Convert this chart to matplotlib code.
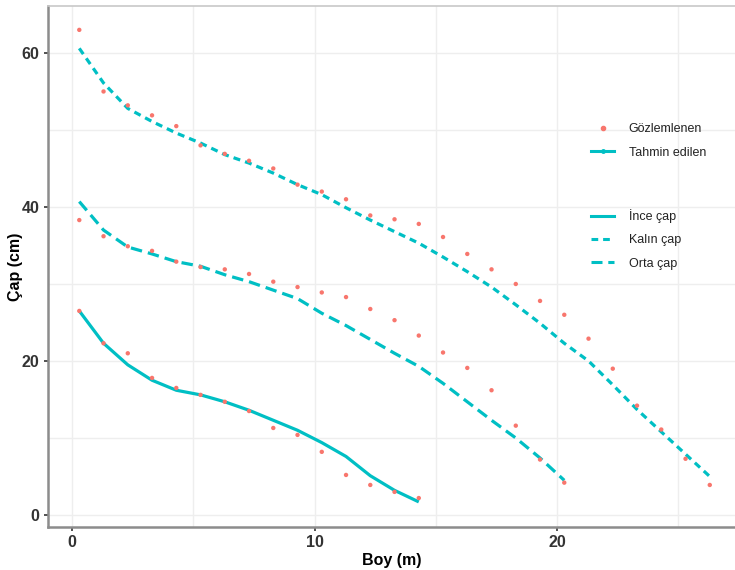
import matplotlib
matplotlib.use("Agg")
import matplotlib.pyplot as plt
from matplotlib.lines import Line2D
import numpy as np

# ---- data ----
x_ince = [0.3, 1.3, 2.3, 3.3, 4.3, 5.3, 6.3, 7.3, 8.3, 9.3, 10.3, 11.3, 12.3, 13.3, 14.3]
obs_ince = [26.5, 22.3, 21.0, 17.8, 16.5, 15.6, 14.7, 13.5, 11.3, 10.4, 8.2, 5.2, 3.9, 3.0, 2.2]
pred_ince = [26.5, 22.3, 19.5, 17.5, 16.2, 15.6, 14.7, 13.6, 12.3, 11.0, 9.4, 7.6, 5.1, 3.2, 1.7]

x_orta = [0.3 + i for i in range(21)]
obs_orta = [38.3, 36.2, 34.9, 34.3, 32.9, 32.2, 31.9, 31.3, 30.3, 29.6, 28.9, 28.3, 26.75,
            25.3, 23.3, 21.1, 19.1, 16.2, 11.6, 7.2, 4.2]
pred_orta = [40.7, 37.0, 34.8, 33.9, 32.9, 32.3, 31.2, 30.3, 29.2, 28.1, 26.2, 24.6, 22.8,
             21.0, 19.3, 17.1, 14.7, 12.3, 10.0, 7.4, 4.5]

x_kalin = [0.3 + i for i in range(27)]
obs_kalin = [63.0, 55.0, 53.2, 51.9, 50.5, 48.0, 46.9, 46.0, 45.0, 42.9, 42.0, 41.0, 38.9,
             38.4, 37.8, 36.1, 33.9, 31.9, 30.0, 27.8, 26.0, 22.9, 19.0, 14.2, 11.1, 7.3, 3.9]
pred_kalin = [60.6, 56.1, 52.8, 51.1, 49.6, 48.3, 46.8, 45.7, 44.4, 42.9, 41.6, 39.9, 38.3,
              36.8, 35.3, 33.5, 31.6, 29.6, 27.3, 24.9, 22.3, 20.0, 16.9, 13.7, 10.8, 7.9, 5.0]

x_ticks = [0, 10, 20]
y_ticks = [0, 20, 40, 60]

# ---- style ----
teal = "#00BFC4"
salmon = "#F8766D"
plt.rcParams['font.family'] = ['Liberation Sans', 'DejaVu Sans']

fig = plt.figure(figsize=(7.35, 5.7), dpi=100)
ax = fig.add_axes([48/735, 1-527/570, 1-48/735, (527-6)/570])

ax.set_xlim(-0.99, (735-72)/24.25)
ax.set_ylim(-1.56, 66.1)

# grid
for v in [0, 5, 10, 15, 20, 25]:
    ax.axvline(v, color="#eeeeee", lw=1.0, zorder=0)
for v in [0, 10, 20, 30, 40, 50, 60]:
    ax.axhline(v, color="#eeeeee", lw=1.0, zorder=0)

lw = 2.3
dash_k = (0, (2.2, 1.6))
dash_o = (0, (3.6, 1.9))
ax.plot(x_ince, pred_ince, color=teal, lw=lw, ls='-', solid_capstyle='butt',
        solid_joinstyle='round', zorder=2)
ax.plot(x_kalin, pred_kalin, color=teal, lw=lw, ls=dash_k, zorder=2)
ax.plot(x_orta, pred_orta, color=teal, lw=lw, ls=dash_o, zorder=2)

for xs, ys in [(x_ince, obs_ince), (x_orta, obs_orta), (x_kalin, obs_kalin)]:
    ax.scatter(xs, ys, s=10, color=salmon, edgecolors='none', zorder=3)

ax.set_xticks(x_ticks)
ax.set_yticks(y_ticks)
ax.tick_params(axis='both', labelsize=11.5, colors='#333333', length=3, width=1.2, pad=3)
for lab in ax.get_xticklabels() + ax.get_yticklabels():
    lab.set_fontweight('bold')

for side in ['left', 'bottom']:
    ax.spines[side].set_color('#8c8c8c')
    ax.spines[side].set_linewidth(1.8)
ax.spines['top'].set_color('#c8c8c8')
ax.spines['top'].set_linewidth(1.2)
ax.spines['right'].set_visible(False)

ax.set_xlabel("Boy (m)", fontsize=11.5, fontweight='bold', labelpad=2)
ax.set_ylabel("Çap (cm)", fontsize=11.5, fontweight='bold')
ax.yaxis.set_label_coords((23-48)/687, 0.5)

# legends
h1 = [Line2D([], [], color=salmon, marker='o', ls='none', markersize=3),
      Line2D([], [], color=teal, lw=2.2, marker='o', markersize=2.5)]
leg1 = ax.legend(h1, ["Gözlemlenen", "Tahmin edilen"], loc='upper left',
                 bbox_to_anchor=((580-48)/687, 1-(112-6)/521), frameon=False,
                 fontsize=9, handlelength=1.8, handletextpad=1.2, labelspacing=0.9)
for t in leg1.get_texts():
    t.set_color('#222222')
ax.add_artist(leg1)

h2 = [Line2D([], [], color=teal, lw=2.2, ls='-'),
      Line2D([], [], color=teal, lw=2.2, ls=dash_k),
      Line2D([], [], color=teal, lw=2.2, ls=dash_o)]
leg2 = ax.legend(h2, ["İnce çap", "Kalın çap", "Orta çap"], loc='upper left',
                 bbox_to_anchor=((580-48)/687, 1-(198-6)/521), frameon=False,
                 fontsize=9, handlelength=1.8, handletextpad=1.2, labelspacing=0.9)
for t in leg2.get_texts():
    t.set_color('#222222')

fig.savefig("out.png", dpi=100)
